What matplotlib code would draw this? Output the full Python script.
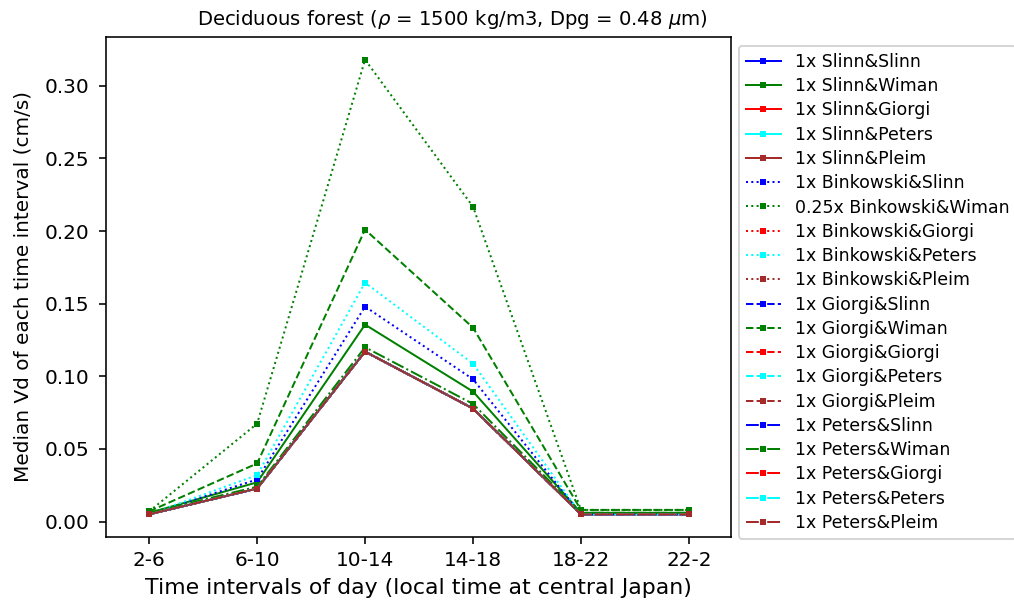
import matplotlib
matplotlib.use("Agg")
import matplotlib.pyplot as plt

intervals = ["2-6", "6-10", "10-14", "14-18", "18-22", "22-2"]

dry_models = ["Slinn", "Binkowski", "Giorgi", "Peters"]
wet_models = ["Slinn", "Wiman", "Giorgi", "Peters", "Pleim"]
colors = ["blue", "green", "red", "cyan", "brown"]
styles = ["-", ":", "--", "-."]

base = [0.005, 0.0227, 0.117, 0.0778, 0.005, 0.005]
slinn_wiman = [0.006, 0.027, 0.1356, 0.0895, 0.006, 0.006]
bink_slinn = [0.005, 0.029, 0.148, 0.098, 0.005, 0.005]
bink_wiman = [0.007, 0.0674, 0.318, 0.2168, 0.008, 0.008]
bink_peters = [0.005, 0.032, 0.1645, 0.1087, 0.005, 0.005]
giorgi_wiman = [0.007, 0.040, 0.201, 0.1335, 0.008, 0.008]
peters_wiman = [0.006, 0.024, 0.120, 0.081, 0.006, 0.006]

values = {
    ("Slinn", "Slinn"): base, ("Slinn", "Wiman"): slinn_wiman,
    ("Slinn", "Giorgi"): base, ("Slinn", "Peters"): base, ("Slinn", "Pleim"): base,
    ("Binkowski", "Slinn"): bink_slinn, ("Binkowski", "Wiman"): bink_wiman,
    ("Binkowski", "Giorgi"): base, ("Binkowski", "Peters"): bink_peters,
    ("Binkowski", "Pleim"): base,
    ("Giorgi", "Slinn"): base, ("Giorgi", "Wiman"): giorgi_wiman,
    ("Giorgi", "Giorgi"): base, ("Giorgi", "Peters"): base, ("Giorgi", "Pleim"): base,
    ("Peters", "Slinn"): base, ("Peters", "Wiman"): peters_wiman,
    ("Peters", "Giorgi"): base, ("Peters", "Peters"): base, ("Peters", "Pleim"): base,
}
scales = {("Binkowski", "Wiman"): "0.25x"}

DPI = 144
fig = plt.figure(figsize=(1014/DPI, 609/DPI), dpi=DPI)
ax = fig.add_axes([106/1014, 1-537/609, (731-106)/1014, (537-37)/609])
x = list(range(len(intervals)))
for d, ls in zip(dry_models, styles):
    for w, c in zip(wet_models, colors):
        lab = f"{scales.get((d, w), '1x')} {d}&{w}"
        ax.plot(x, values[(d, w)], linestyle=ls, color=c, marker="s",
                markersize=2, linewidth=1.0, label=lab)

ax.set_xticks(x)
ax.set_xticklabels(intervals)
ax.set_xlim(-0.4, 5.39)
ax.tick_params(labelsize=10)
ax.tick_params(axis="y", pad=5)
ax.set_xlabel("Time intervals of day (local time at central Japan)", fontsize=11)
ax.set_ylabel("Median Vd of each time interval (cm/s)", fontsize=10, labelpad=6)
ax.set_title(r"Deciduous forest ($\rho$ = 1500 kg/m3, Dpg = 0.48 $\mu$m)",
             fontsize=9.8, pad=6, x=0.554)
ax.legend(loc="upper left", bbox_to_anchor=(739/1014, 1-46/609),
          bbox_transform=fig.transFigure, borderaxespad=0, fontsize=8.7,
          labelspacing=0.36)
fig.savefig("out.png", dpi=DPI)
